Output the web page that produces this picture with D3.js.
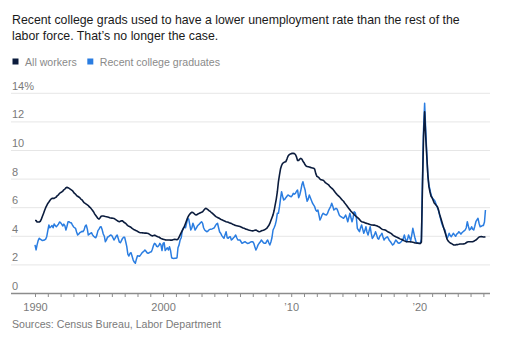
<!DOCTYPE html>
<html>
<head>
<meta charset="utf-8">
<script src="https://cdn.jsdelivr.net/npm/d3@7"></script>
<style>
  html, body { margin: 0; padding: 0; background: #fff; }
  svg { display: block; font-family: "Liberation Sans", Arial, sans-serif; }
</style>
</head>
<body>
<svg id="chart" width="505" height="337"></svg>
<script>
// ---- text ----
const titleLines = [
  "Recent college grads used to have a lower unemployment rate than the rest of the",
  "labor force. That\u2019s no longer the case."
];
const seriesNames = ["All workers", "Recent college graduates"];
const sourceNote = "Sources: Census Bureau, Labor Department";

// ---- axes ----
const yTicks = [0, 2, 4, 6, 8, 10, 12, 14];
const xTickYears = [1990, 2000, 2010, 2020];
const xTickLabels = ["1990", "2000", "\u201910", "\u201920"];

// ---- monthly unemployment rates (%), Jan 1990 – Mar 2025 ----
const firstMonth = new Date(1990, 0, 1);
const allWorkers = [
  5.1, 5.1, 5.0, 5.0, 5.0, 5.05, 5.2, 5.4, 5.6, 5.8, 6.0, 6.15,          // 1990
  6.3, 6.4, 6.5, 6.6, 6.65, 6.65, 6.65, 6.7, 6.75, 6.85, 6.9, 7.0,       // 1991
  7.05, 7.1, 7.15, 7.25, 7.3, 7.4, 7.42, 7.4, 7.35, 7.3, 7.25, 7.2,      // 1992
  7.1, 7.0, 6.95, 6.85, 6.8, 6.75, 6.7, 6.6, 6.55, 6.45, 6.35, 6.3,      // 1993
  6.25, 6.2, 6.15, 6.05, 6.0, 5.9, 5.8, 5.7, 5.55, 5.45, 5.35, 5.25,     // 1994
  5.2, 5.3, 5.4, 5.42, 5.42, 5.4, 5.38, 5.37, 5.35, 5.33, 5.3, 5.28,     // 1995
  5.27, 5.26, 5.25, 5.2, 5.15, 5.1, 5.05, 5.02, 5.05, 5.09, 5.08, 5.0,   // 1996
  4.95, 4.9, 4.82, 4.75, 4.7, 4.67, 4.62, 4.55, 4.5, 4.45, 4.42, 4.38,   // 1997
  4.35, 4.3, 4.27, 4.25, 4.25, 4.24, 4.23, 4.22, 4.22, 4.21, 4.2, 4.15,  // 1998
  4.1, 4.05, 4.03, 4.05, 4.08, 4.05, 4.0, 3.97, 3.95, 3.9, 3.85, 3.82,   // 1999
  3.8, 3.78, 3.75, 3.74, 3.74, 3.74, 3.74, 3.73, 3.73, 3.75, 3.78, 3.79, // 2000
  3.78, 3.76, 3.8, 3.95, 4.1, 4.25, 4.4, 4.55, 4.7, 4.9, 5.1, 5.3,       // 2001
  5.45, 5.55, 5.63, 5.68, 5.66, 5.6, 5.52, 5.49, 5.52, 5.58, 5.61, 5.65, // 2002
  5.68, 5.72, 5.8, 5.9, 5.96, 5.92, 5.86, 5.8, 5.75, 5.68, 5.62, 5.55,   // 2003
  5.48, 5.4, 5.36, 5.32, 5.28, 5.24, 5.19, 5.15, 5.12, 5.08, 5.05, 5.02, // 2004
  5.0, 4.98, 4.95, 4.92, 4.9, 4.85, 4.82, 4.78, 4.76, 4.74, 4.72, 4.7,   // 2005
  4.68, 4.65, 4.62, 4.58, 4.56, 4.52, 4.5, 4.47, 4.44, 4.42, 4.4, 4.39,  // 2006
  4.38, 4.4, 4.42, 4.44, 4.4, 4.35, 4.32, 4.34, 4.38, 4.4, 4.42, 4.45,   // 2007
  4.5, 4.55, 4.65, 4.75, 4.9, 5.1, 5.3, 5.5, 5.8, 6.2, 6.6, 7.1,         // 2008
  7.8, 8.3, 8.7, 8.95, 9.1, 9.15, 9.2, 9.22, 9.4, 9.6, 9.7, 9.75,        // 2009
  9.78, 9.8, 9.8, 9.78, 9.72, 9.55, 9.3, 9.3, 9.4, 9.45, 9.4, 9.25,      // 2010
  9.15, 9.0, 8.92, 8.88, 8.86, 8.84, 8.82, 8.8, 8.78, 8.76, 8.7, 8.4,    // 2011
  8.2, 8.15, 8.1, 8.0, 7.95, 7.94, 7.92, 7.85, 7.75, 7.7, 7.65, 7.6,     // 2012
  7.5, 7.42, 7.36, 7.3, 7.2, 7.1, 7.0, 6.92, 6.85, 6.78, 6.7, 6.6,       // 2013
  6.52, 6.45, 6.35, 6.25, 6.15, 6.05, 5.95, 5.85, 5.75, 5.68, 5.6, 5.52, // 2014
  5.45, 5.37, 5.32, 5.25, 5.18, 5.08, 5.02, 5.0, 4.98, 4.95, 4.92, 4.9,  // 2015
  4.88, 4.85, 4.82, 4.8, 4.79, 4.78, 4.78, 4.76, 4.74, 4.7, 4.67, 4.62,  // 2016
  4.55, 4.5, 4.48, 4.46, 4.44, 4.4, 4.35, 4.3, 4.26, 4.22, 4.18, 4.1,    // 2017
  4.05, 4.0, 3.97, 3.94, 3.9, 3.86, 3.82, 3.79, 3.76, 3.72, 3.68, 3.65,  // 2018
  3.62, 3.62, 3.62, 3.62, 3.61, 3.6, 3.58, 3.56, 3.54, 3.53, 3.52, 3.52, // 2019
  3.5, 3.5, 3.6, 7.5, 11.0, 12.7, 11.0, 9.6, 8.3, 7.47, 7.1, 6.8,        // 2020
  6.7, 6.5, 6.33, 6.25, 6.15, 6.07, 5.85, 5.55, 5.3, 5.05, 4.8, 4.55,    // 2021
  4.3, 4.05, 3.8, 3.68, 3.6, 3.53, 3.5, 3.45, 3.4, 3.39, 3.4, 3.42,      // 2022
  3.42, 3.44, 3.46, 3.46, 3.46, 3.46, 3.47, 3.5, 3.55, 3.6, 3.62, 3.62,  // 2023
  3.62, 3.62, 3.62, 3.65, 3.7, 3.74, 3.8, 3.88, 3.95, 3.97, 3.98, 3.97,  // 2024
  3.95, 3.95, 3.97                                                       // 2025
];
const recentGrads = [
  3.4, 3.05, 3.4, 3.7, 3.86, 3.8, 3.75, 3.7, 3.72, 3.74, 3.8, 3.97,      // 1990
  4.4, 4.79, 4.6, 4.67, 4.75, 4.6, 4.86, 4.75, 4.67, 4.75, 4.85, 5.0,    // 1991
  4.95, 4.85, 4.72, 4.85, 4.75, 4.44, 4.7, 5.02, 5.02, 4.95, 4.95, 4.8,  // 1992
  4.67, 4.6, 4.56, 4.3, 4.09, 4.15, 4.25, 4.3, 4.35, 4.32, 4.45, 4.7,    // 1993
  4.79, 4.5, 4.09, 4.15, 4.2, 4.25, 4.1, 4.0, 3.93, 3.9, 4.1, 4.4,       // 1994
  4.5, 4.65, 4.67, 4.45, 4.16, 4.0, 3.62, 3.75, 3.95, 3.97, 4.05, 4.09,  // 1995
  4.05, 3.9, 3.74, 3.85, 4.0, 4.09, 3.85, 3.6, 3.55, 3.7, 3.85, 3.93,    // 1996
  3.93, 3.6, 3.3, 2.75, 2.62, 2.8, 2.85, 2.6, 2.34, 2.2, 2.11, 2.4,      // 1997
  2.64, 2.62, 2.6, 2.7, 2.81, 2.9, 2.95, 3.04, 2.95, 2.85, 2.81, 2.85,   // 1998
  2.9, 2.92, 3.1, 3.35, 3.51, 3.45, 3.3, 3.27, 3.35, 3.51, 3.4, 3.0,     // 1999
  3.5, 3.55, 3.0, 3.1, 3.2, 3.04, 3.27, 3.0, 2.5, 2.46, 2.45, 2.46,      // 2000
  2.46, 2.5, 3.2, 3.4, 3.74, 3.9, 4.4, 4.56, 4.67, 4.6, 4.9, 5.26,       // 2001
  5.2, 4.8, 4.44, 4.6, 4.91, 4.7, 4.44, 4.55, 4.7, 4.79, 4.85, 4.95,     // 2002
  5.02, 4.9, 4.6, 4.44, 4.38, 4.32, 4.36, 4.45, 4.49, 4.5, 4.52, 4.56,   // 2003
  4.6, 4.75, 4.85, 4.91, 4.6, 4.3, 4.21, 4.05, 3.95, 3.86, 4.1, 4.32,    // 2004
  3.9, 3.86, 3.95, 3.97, 3.74, 3.8, 3.9, 3.97, 4.09, 3.9, 3.74, 3.74,    // 2005
  3.74, 3.62, 3.51, 3.55, 3.6, 3.62, 3.55, 3.5, 3.51, 3.55, 3.6, 3.62,   // 2006
  3.62, 3.5, 3.27, 3.04, 3.2, 3.4, 3.51, 3.6, 3.74, 3.65, 3.55, 3.51,    // 2007
  3.51, 3.65, 3.74, 3.55, 3.39, 3.6, 3.9, 4.44, 4.6, 4.79, 5.1, 5.61,    // 2008
  5.61, 6.07, 6.6, 7.12, 6.8, 6.54, 6.59, 6.7, 6.8, 6.89, 6.85, 6.8,     // 2009
  6.77, 6.85, 7.0, 6.95, 7.0, 7.15, 7.24, 6.7, 6.89, 7.2, 7.6, 7.82,     // 2010
  7.5, 7.24, 6.8, 6.45, 6.6, 6.89, 6.7, 6.5, 6.31, 6.2, 6.07, 5.84,      // 2011
  5.75, 5.84, 5.5, 5.14, 5.3, 5.5, 5.61, 5.55, 5.5, 5.49, 5.6, 5.8,      // 2012
  5.96, 6.1, 6.31, 6.1, 5.84, 5.9, 5.96, 5.9, 5.7, 5.49, 5.4, 5.35,      // 2013
  5.3, 5.26, 5.35, 5.49, 5.3, 5.02, 5.3, 5.61, 5.3, 5.02, 5.3, 5.72,     // 2014
  5.65, 5.3, 4.56, 4.44, 4.32, 4.6, 4.79, 4.5, 4.21, 4.4, 4.67, 4.3,     // 2015
  4.09, 4.4, 4.67, 4.2, 3.85, 3.97, 4.1, 4.32, 4.1, 3.86, 3.8, 4.0,      // 2016
  4.1, 4.21, 3.95, 3.74, 3.85, 3.9, 3.97, 3.85, 3.7, 3.62, 3.5, 3.39,    // 2017
  3.45, 3.6, 3.74, 3.65, 3.55, 3.51, 3.55, 3.62, 3.7, 3.85, 4.09, 3.8,   // 2018
  3.62, 3.8, 4.09, 3.9, 3.7, 4.1, 4.56, 4.2, 3.86, 3.6, 3.51, 3.51,      // 2019
  3.5, 3.55, 3.8, 8.0, 11.5, 13.3, 11.5, 9.8, 8.2, 7.6, 7.24, 6.9,       // 2020
  6.7, 6.6, 6.54, 6.4, 6.19, 6.0, 5.8, 5.5, 5.2, 4.91, 4.7, 4.55,        // 2021
  4.44, 4.1, 3.86, 4.0, 4.21, 4.05, 3.97, 4.1, 4.21, 4.1, 4.0, 4.15,     // 2022
  4.2, 4.32, 4.25, 4.15, 4.25, 4.32, 4.38, 4.44, 4.6, 5.02, 4.7, 4.44,   // 2023
  4.5, 4.67, 4.5, 4.44, 4.7, 5.02, 5.15, 5.26, 4.9, 4.67, 4.7, 4.75,     // 2024
  4.75, 5.0, 5.84                                                        // 2025
];

const colors = { all: "#0b1c3d", grads: "#2a7de1" };

// ---- layout ----
const left = 11, right = 490;
const svg = d3.select("#chart");

const x = d3.scaleTime()
  .domain([new Date(1990, 0, 1), new Date(2020, 0, 1)])
  .range([35, 419.3]);
const y = d3.scaleLinear().domain([0, 14]).range([293.5, 93.3]);

const months = allWorkers.map((_, i) => d3.timeMonth.offset(firstMonth, i));

// title, sized so the first line spans the plot width
const title = svg.append("text")
  .attr("fill", "#1a1a1a")
  .style("font-size", "13.5px");
const tspans = titleLines.map((t, i) =>
  title.append("tspan").attr("x", 12).attr("y", 24 + i * 15.5).text(t));
const w0 = tspans[0].node().getComputedTextLength();
title.style("font-size", (13.5 * 448 / w0).toFixed(2) + "px");

// legend
const legend = svg.append("g").attr("transform", "translate(12,62)");
let lx = 0;
[[seriesNames[0], colors.all], [seriesNames[1], colors.grads]].forEach(([name, c]) => {
  const g = legend.append("g").attr("transform", `translate(${lx},0)`);
  g.append("rect").attr("x", 0.5).attr("y", -3.5).attr("width", 6).attr("height", 6).attr("fill", c);
  const t = g.append("text").attr("x", 13).attr("y", 3.8)
    .attr("fill", "#8a8a8a").style("font-size", "10.6px").text(name);
  lx += 13 + t.node().getComputedTextLength() + 10;
});

// gridlines and y labels
const grid = svg.append("g");
yTicks.forEach(v => {
  if (v > 0) {
    grid.append("line")
      .attr("x1", left).attr("x2", right)
      .attr("y1", y(v)).attr("y2", y(v))
      .attr("stroke", "#e6e6e6").attr("stroke-width", 1);
  }
  grid.append("text")
    .attr("x", 12).attr("y", y(v) - 3.5)
    .attr("fill", "#7a7a7a").style("font-size", "11px")
    .text(v === 14 ? v + "%" : v);
});

// x axis: yearly ticks, labels on decades
const years = d3.timeYear.range(new Date(1990, 0, 1), new Date(2026, 0, 1));
const xAxis = d3.axisBottom(x)
  .tickValues(years)
  .tickSize(3.5)
  .tickSizeOuter(0)
  .tickFormat(d => {
    const i = xTickYears.indexOf(d.getFullYear());
    return i >= 0 ? xTickLabels[i] : "";
  });
const axisG = svg.append("g")
  .attr("transform", `translate(0,${y(0)})`)
  .call(xAxis);
axisG.select(".domain").remove();
axisG.selectAll(".tick line").attr("stroke", "#8c8c8c");
axisG.selectAll(".tick text")
  .attr("y", 17.5).attr("dy", 0)
  .attr("fill", "#7a7a7a")
  .style("font-size", "11px")
  .style("font-family", "'Liberation Sans', Arial, sans-serif");
axisG.append("line")
  .attr("x1", left).attr("x2", right).attr("y1", 0).attr("y2", 0)
  .attr("stroke", "#8c8c8c").attr("stroke-width", 1.5);

// lines
const line = d3.line()
  .x((d, i) => x(months[i]))
  .y(d => y(d))
  .curve(d3.curveLinear);

svg.append("path")
  .datum(recentGrads)
  .attr("fill", "none")
  .attr("stroke", colors.grads)
  .attr("stroke-width", 1.5)
  .attr("stroke-linejoin", "round")
  .attr("d", line);

svg.append("path")
  .datum(allWorkers)
  .attr("fill", "none")
  .attr("stroke", colors.all)
  .attr("stroke-width", 1.6)
  .attr("stroke-linejoin", "round")
  .attr("d", line);

// source
svg.append("text")
  .attr("x", 12).attr("y", 328)
  .attr("fill", "#7a7a7a").style("font-size", "10.6px")
  .text(sourceNote);
</script>
</body>
</html>
